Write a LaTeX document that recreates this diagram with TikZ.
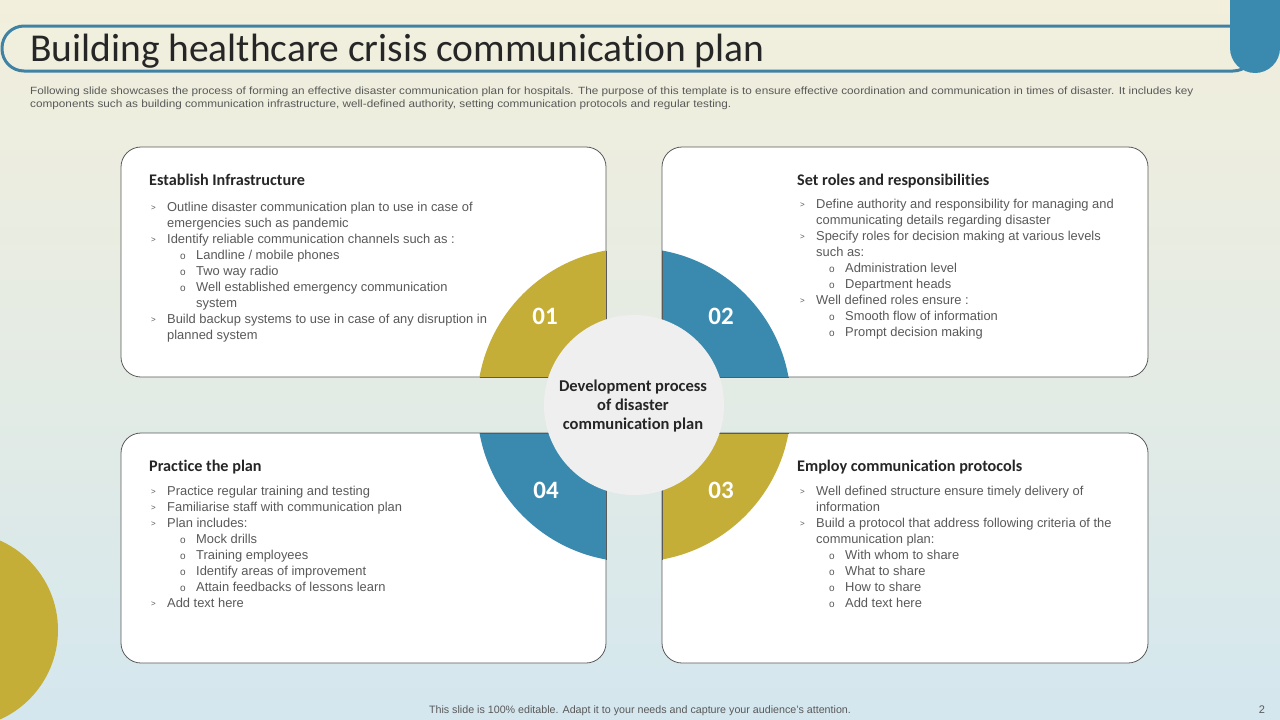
\documentclass[tikz,border=0pt]{standalone}
\usepackage{fontspec}
\setmainfont{Liberation Sans}
\newfontfamily\calfont[Ligatures=NoCommon]{Carlito}
\newfontfamily\subfont[FakeStretch=1.12]{Liberation Sans}
\definecolor{bgtop}{HTML}{F2EFDC}
\definecolor{bgbot}{HTML}{D4E7EE}
\definecolor{ylw}{HTML}{C4AE38}
\definecolor{blu}{HTML}{3A8AB0}
\definecolor{barline}{HTML}{3F82A4}
\definecolor{txt}{HTML}{595959}
\definecolor{dark}{HTML}{262626}
\definecolor{ctr}{HTML}{EFEFEF}
\definecolor{brd}{HTML}{5A5A5A}
\newcommand\bul[1]{\makebox[16pt][l]{\raisebox{1pt}{\fontsize{8}{8}\selectfont >}}#1}
\newcommand\cont[1]{\hspace*{16pt}#1}
\newcommand\subb[1]{\hspace*{29pt}\makebox[16pt][l]{\fontsize{10}{10}\selectfont o}#1}
\newcommand\subc[1]{\hspace*{45pt}#1}
\tikzset{
  card/.style={draw=brd, fill=white, line width=0.8pt, rounded corners=20pt},
  quadline/.style={draw=brd, line width=0.8pt},
  heading/.style={font=\calfont\bfseries\fontsize{16.2}{19}\selectfont, text=dark, anchor=base west, inner sep=0},
  body/.style={font=\fontsize{12.9}{16}\selectfont, text=txt, anchor=base west, inner sep=0},
  num/.style={font=\calfont\bfseries\fontsize{25}{28}\selectfont, text=white, anchor=center, inner sep=0},
}
\begin{document}
\begin{tikzpicture}[x=1pt,y=-1pt]
\useasboundingbox (0,0) rectangle (1280,720);
\shade[top color=bgtop, bottom color=bgbot, middle color=bgtop!55!bgbot] (0,0) rectangle (1280,720);
% decorative circle
\fill[ylw] (-40,630) circle (98pt);
% title bar
\draw[barline, line width=3pt, rounded corners=22pt] (2,26) rectangle (1255,71);
\fill[blu, rounded corners=25pt] (1230,-40) rectangle (1280,73);
\node[font=\calfont\fontsize{39.5}{42}\selectfont, text=dark, anchor=base west, inner sep=0] (title) at (30,61) {Building healthcare crisis communication plan};
\node[font=\subfont\fontsize{10.5}{13}\selectfont, text=txt, anchor=base west, inner sep=0, align=left] (sub) at (30,94)
 {\begin{tabular}[t]{@{}l@{}}Following slide showcases the process of forming an effective disaster communication plan for hospitals. The purpose of this template is to ensure effective coordination and communication in times of disaster. It includes key\\components such as building communication infrastructure, well-defined authority, setting communication protocols and regular testing.\end{tabular}};
% cards
\path[card] (121,147) rectangle (606,377);
\path[card] (662,147) rectangle (1148,377);
\path[card] (121,433) rectangle (606,663);
\path[card] (662,433) rectangle (1148,663);
% ring quadrants
\begin{scope}\clip (0,0) rectangle (606,377); \fill[ylw] (634,405) circle (157pt); \end{scope}
\begin{scope}\clip (662,0) rectangle (1280,377); \fill[blu] (634,405) circle (157pt); \end{scope}
\begin{scope}\clip (662,433) rectangle (1280,720); \fill[ylw] (634,405) circle (157pt); \end{scope}
\begin{scope}\clip (0,433) rectangle (606,720); \fill[blu] (634,405) circle (157pt); \end{scope}
\path[quadline] (606,250.5) -- (606,377) -- (479.5,377);
\path[quadline] (662,250.5) -- (662,377) -- (788.5,377);
\path[quadline] (662,559.5) -- (662,433) -- (788.5,433);
\path[quadline] (606,559.5) -- (606,433) -- (479.5,433);
\fill[ctr] (634,405) circle (90pt);
\node[num] (n1) at (545,316) {01};
\node[num] (n2) at (721,316) {02};
\node[num] (n3) at (721,490) {03};
\node[num] (n4) at (546,490) {04};
\node[font=\calfont\bfseries\fontsize{16.5}{19}\selectfont, text=dark, align=center, inner sep=0] (center) at (633,406)
 {Development process\\of disaster\\communication plan};
% card 1
\node[heading] (h1) at (149,185) {Establish Infrastructure};
\node[body] (b1) at (151,211) {\begin{tabular}[t]{@{}l@{}}
\bul{Outline disaster communication plan to use in case of}\\
\cont{emergencies such as pandemic}\\
\bul{Identify reliable communication channels such as :}\\
\subb{Landline / mobile phones}\\
\subb{Two way radio}\\
\subb{Well established emergency communication}\\
\subc{system}\\
\bul{Build backup systems to use in case of any disruption in}\\
\cont{planned system}
\end{tabular}};
% card 2
\node[heading] (h2) at (797,185) {Set roles and responsibilities};
\node[body] (b2) at (800,208) {\begin{tabular}[t]{@{}l@{}}
\bul{Define authority and responsibility for managing and}\\
\cont{communicating details regarding disaster}\\
\bul{Specify roles for decision making at various levels}\\
\cont{such as:}\\
\subb{Administration level}\\
\subb{Department heads}\\
\bul{Well defined roles ensure :}\\
\subb{Smooth flow of information}\\
\subb{Prompt decision making}
\end{tabular}};
% card 3 (bottom left)
\node[heading] (h4) at (149,471) {Practice the plan};
\node[body] (b4) at (151,495) {\begin{tabular}[t]{@{}l@{}}
\bul{Practice regular training and testing}\\
\bul{Familiarise staff with communication plan}\\
\bul{Plan includes:}\\
\subb{Mock drills}\\
\subb{Training employees}\\
\subb{Identify areas of improvement}\\
\subb{Attain feedbacks of lessons learn}\\
\bul{Add text here}
\end{tabular}};
% card 4 (bottom right)
\node[heading] (h3) at (797,471) {Employ communication protocols};
\node[body] (b3) at (800,495) {\begin{tabular}[t]{@{}l@{}}
\bul{Well defined structure ensure timely delivery of}\\
\cont{information}\\
\bul{Build a protocol that address following criteria of the}\\
\cont{communication plan:}\\
\subb{With whom to share}\\
\subb{What to share}\\
\subb{How to share}\\
\subb{Add text here}
\end{tabular}};
% footer
\node[font=\fontsize{10.7}{12}\selectfont, text=txt, anchor=base, inner sep=0] (foot) at (640,713) {This slide is 100\% editable.  Adapt it to your needs and capture your audience's attention.};
\node[font=\fontsize{11}{12}\selectfont, text=txt, anchor=base, inner sep=0] (page) at (1262,713) {2};
\end{tikzpicture}
\end{document}
